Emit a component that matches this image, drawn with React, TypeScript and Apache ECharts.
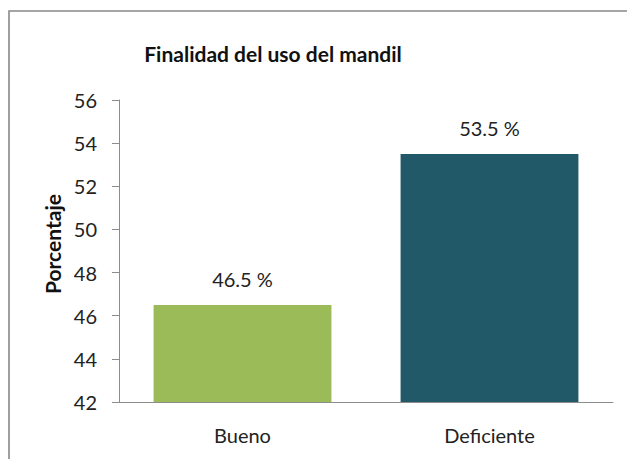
import React, { useEffect, useRef } from "react";
import * as echarts from "echarts";

const categories = ["Bueno", "Deficiente"];
const values = [46.5, 53.5];
const barColors = ["#9BBB59", "#215968"];
const yMin = 42;
const yMax = 56;
const yStep = 2;

export default function App() {
  const ref = useRef<HTMLDivElement>(null);
  useEffect(() => {
    if (!ref.current) return;
    const chart = echarts.init(ref.current, null, { renderer: "svg" });
    const font = "Lato, 'Open Sans', sans-serif";
    chart.setOption({
      animation: false,
      backgroundColor: "#ffffff",
      graphic: [
        {
          type: "polyline",
          shape: { points: [[9, 470], [9, 11], [640, 11]] },
          style: { fill: "none", stroke: "#888888", lineWidth: 1.6 },
          silent: true,
        },
      ],
      title: {
        text: "Finalidad del uso del mandil",
        left: 268,
        top: 38,
        textAlign: "center",
        textStyle: { fontFamily: font, fontSize: 21, fontWeight: "bold", color: "#111" },
      },
      grid: { left: 119, right: 14, top: 100, bottom: 57 },
      xAxis: {
        type: "category",
        data: categories,
        axisLine: { lineStyle: { color: "#8c8c8c", width: 1 } },
        axisTick: { show: false },
        axisLabel: { fontFamily: font, fontSize: 20, color: "#222", margin: 23 },
      },
      yAxis: {
        type: "value",
        min: yMin,
        max: yMax,
        interval: yStep,
        name: "Porcentaje",
        nameLocation: "middle",
        nameGap: 56,
        nameTextStyle: {
          fontFamily: font,
          fontSize: 21,
          fontWeight: "bold",
          color: "#111",
          padding: [0, 0, 0, 14],
        },
        axisLine: { show: true, lineStyle: { color: "#8c8c8c", width: 1 } },
        axisTick: { show: true, length: 7, lineStyle: { color: "#8c8c8c" } },
        axisLabel: { fontFamily: font, fontSize: 20, color: "#222", margin: 22 },
        splitLine: { show: false },
      },
      series: [
        {
          type: "bar",
          barWidth: "72%",
          data: values.map((v, i) => ({ value: v, itemStyle: { color: barColors[i] } })),
          label: {
            show: true,
            position: "top",
            distance: 16,
            formatter: (p: any) => `${p.value.toFixed(1)} %`,
            fontFamily: font,
            fontSize: 20,
            color: "#222",
          },
        },
      ],
    });
    return () => chart.dispose();
  }, []);
  return (
    <div
      ref={ref}
      style={{ position: "absolute", left: 0, top: 0, width: 627, height: 459 }}
    />
  );
}
